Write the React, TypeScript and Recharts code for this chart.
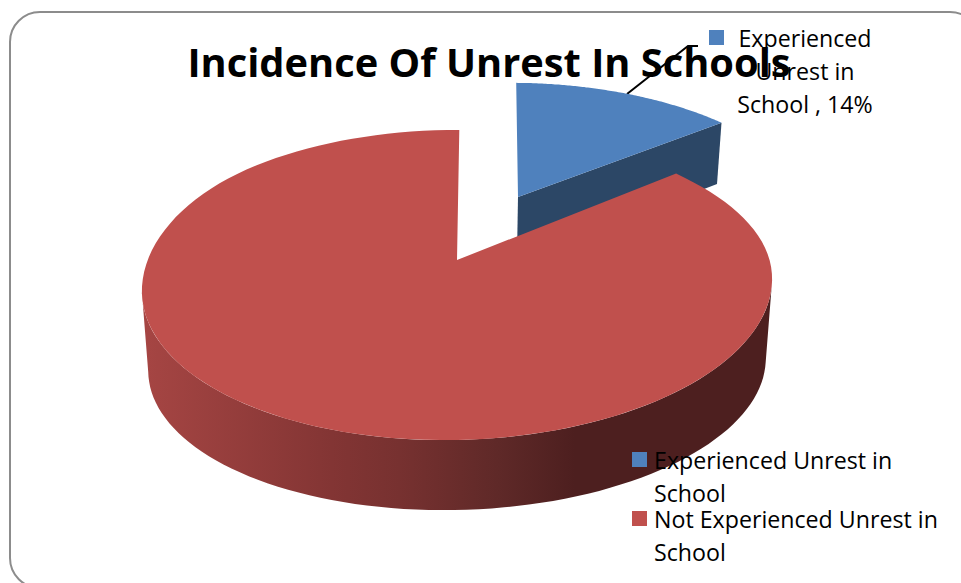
import React from 'react';
import { PieChart, Pie, Cell, Legend } from 'recharts';

const categories = ['Experienced Unrest in School', 'Not Experienced Unrest in School'];
const shares = [14, 86];
const explodeBy = [0.494, 0]; // pull-out of each slice, in radii
const topColors = ['#4f81bd', '#c0504d'];

const titleText = 'Incidence Of Unrest In Schools';
const blueLabel = ['Experienced', 'Unrest in', 'School , 14%'];
const redLabel = ['Not', 'Experienced', 'Unrest in', 'School, 86%'];

const FONT = '"Open Sans", sans-serif';

// perspective of the tilted pie
const SQUASH = 0.4855;
const NEAR = 0.161;
const DROP_X = 0.02;
const DROP_Y = 0.04;
const TILT = 0.02;

const data = categories.map((name, i) => ({ name, value: shares[i], explode: explodeBy[i] }));

const SlantedSlice = (props: any) => {
    const { cx, cy, outerRadius: r, startAngle, endAngle, fill, payload } = props;
    const explode = payload?.explode ?? props.explode ?? 0;
    const pulled = explode > 0;
    const mid = ((startAngle + endAngle) / 2) * Math.PI / 180;
    const ox = explode * Math.cos(mid);
    const oy = explode * Math.sin(mid);
    const twist = pulled ? -1.4 : -0.5; // the rim sits slightly rotated in the original
    const depth = pulled ? 0.2215 : 0.2725;
    const lowSquash = pulled ? 1 : 0.894;

    const project = (X: number, Y: number, low: boolean) => {
        const px = X + ox;
        const py = Y + oy;
        const dx = 1 + NEAR * py + (low ? DROP_X : 0);
        const dy = 1 + NEAR * py + (low ? DROP_Y : 0);
        const x = (r * px) / dx;
        const y = (-SQUASH * r * py * (low ? lowSquash : 1) + (low ? depth * r : 0)) / dy;
        // front of the big slice leans a little, fading out towards the back
        const lean = pulled ? 0 : Math.max(0, Math.min(1, (0.6 - py) / 0.76));
        return [cx + x, cy + y - TILT * x * lean];
    };
    const rim = (deg: number, low: boolean) =>
        project(Math.cos(((deg + twist) * Math.PI) / 180), Math.sin(((deg + twist) * Math.PI) / 180), low);
    const toPath = (pts: number[][]) =>
        'M' + pts.map(p => `${p[0].toFixed(1)},${p[1].toFixed(1)}`).join('L') + 'Z';

    const steps = 120;
    const arc: number[][] = [];
    for (let i = 0; i <= steps; i++) {
        arc.push(rim(startAngle + ((endAngle - startAngle) * i) / steps, false));
    }
    const apex = project(0, 0, false);

    let wall = null;
    if (pulled) {
        // the cut face that looks towards the viewer
        const end = [apex, rim(endAngle, false), rim(endAngle, true), project(0, 0, true)];
        wall = <path d={toPath(end)} fill="#2c4766" />;
    } else {
        // only the part below the widest point of the rim shows
        const front: number[][] = [];
        const back: number[][] = [];
        for (let deg = 190; deg <= 350; deg += 2) {
            front.push(rim(deg, false));
            back.unshift(rim(deg, true));
        }
        wall = <path d={toPath([...front, ...back])} fill="url(#wallShade)" />;
    }

    return (
        <g>
            <defs>
                <linearGradient id="wallShade" gradientUnits="userSpaceOnUse" x1="147" y1="0" x2="575" y2="0">
                    <stop offset="0" stopColor="#a54543" />
                    <stop offset="0.43" stopColor="#833534" />
                    <stop offset="0.59" stopColor="#773130" />
                    <stop offset="0.82" stopColor="#5f2928" />
                    <stop offset="1" stopColor="#4d1f1f" />
                </linearGradient>
            </defs>
            {wall}
            <path d={toPath([apex, ...arc])} fill={fill} />
        </g>
    );
};

const LegendBox = ({ payload }: any) => (
    <div style={{ fontFamily: FONT, fontSize: 23.2, lineHeight: '33px', color: '#000' }}>
        {(payload || []).map((item: any) => (
            <div key={item.value} style={{ position: 'relative', paddingLeft: 22, marginBottom: -7 }}>
                <span
                    style={{ position: 'absolute', left: 0, top: 8, width: 15, height: 15, background: item.color }}
                />
                {item.value}
            </div>
        ))}
    </div>
);

const App: React.FC = () => (
    <div style={{ position: 'absolute', left: 0, top: 0, width: 961, height: 583, overflow: 'hidden', background: '#fff' }}>
        <PieChart width={961} height={583} margin={{ top: 0, right: 0, bottom: 0, left: 0 }}>
            <rect x={10} y={12} width={970} height={576} rx={30} fill="#fff" stroke="#8c8c8c" strokeWidth={2} />
            <Pie
                data={data}
                dataKey="value"
                nameKey="name"
                cx={457}
                cy={260}
                outerRadius={311}
                startAngle={90}
                endAngle={-270}
                stroke="none"
                isAnimationActive={false}
                shape={SlantedSlice}
            >
                {data.map((entry, index) => (
                    <Cell key={`cell-${index}`} fill={topColors[index]} />
                ))}
            </Pie>
            <Legend
                layout="vertical"
                content={<LegendBox />}
                wrapperStyle={{ left: 632, top: 444, width: 320, bottom: 'auto', right: 'auto' }}
            />
            <text x={489} y={77} textAnchor="middle" fontFamily={FONT} fontWeight={700} fontSize={39.8} fill="#000">
                {titleText}
            </text>
            <polyline points="627,94 688,46 698,46" fill="none" stroke="#000" strokeWidth={2} />
            <rect x={709} y={30} width={15} height={15} fill={topColors[0]} />
            {blueLabel.map((line, i) => (
                <text key={line} x={805} y={47 + i * 33} textAnchor="middle" fontFamily={FONT} fontSize={23.2} fill="#000">
                    {line}
                </text>
            ))}
            {redLabel.map((line, i) => (
                <text key={line} x={454} y={307 + i * 32.3} textAnchor="middle" fontFamily={FONT} fontSize={23.2} fill="#000">
                    {line}
                </text>
            ))}
        </PieChart>
    </div>
);

export default App;
